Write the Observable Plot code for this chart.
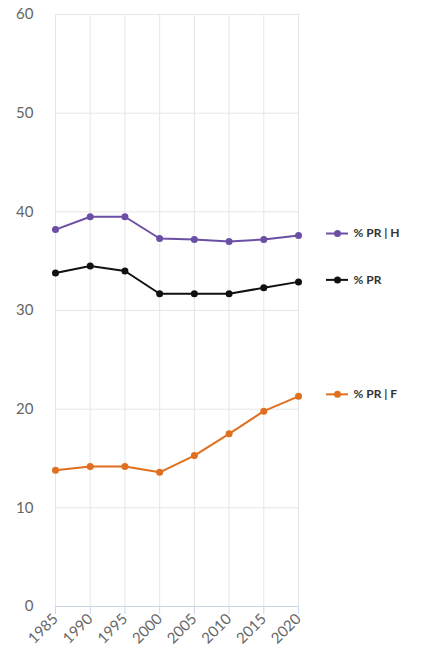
<!DOCTYPE html>
<html>
<head>
<meta charset="utf-8">
<script src="https://cdn.jsdelivr.net/npm/d3@7"></script>
<script src="https://cdn.jsdelivr.net/npm/@observablehq/plot@0.6"></script>
<style>
  html, body { margin: 0; padding: 0; background: #fff; }
  #chart svg { display: block; }
</style>
</head>
<body>
<div id="chart"></div>
<script>
const years = [1985, 1990, 1995, 2000, 2005, 2010, 2015, 2020];
const seriesNames = ["% PR | H", "% PR", "% PR | F"];
const seriesColors = ["#6b4fa5", "#111111", "#e06f1f"];
const valuesH = [38.2, 39.5, 39.5, 37.3, 37.2, 37.0, 37.2, 37.6];
const valuesPR = [33.8, 34.5, 34.0, 31.7, 31.7, 31.7, 32.3, 32.9];
const valuesF = [13.8, 14.2, 14.2, 13.6, 15.3, 17.5, 19.8, 21.3];
const yTicks = [0, 10, 20, 30, 40, 50, 60];

const seriesValues = [valuesH, valuesPR, valuesF];
const data = [];
seriesNames.forEach((s, i) => years.forEach((yr, j) => data.push({series: s, year: yr, value: seriesValues[i][j]})));
const last = seriesNames.map((s, i) => ({series: s, year: years[years.length - 1], value: seriesValues[i][years.length - 1]}));

const plot = Plot.plot({
  width: 425,
  height: 652,
  marginLeft: 55,
  marginRight: 127,
  marginTop: 14,
  marginBottom: 46,
  style: {fontFamily: "Lato, 'DejaVu Sans', sans-serif", fontSize: "15px", color: "#666", background: "#fff"},
  x: {domain: [1985, 2020], label: null},
  y: {domain: [0, 60], label: null},
  color: {domain: seriesNames, range: seriesColors},
  marks: [
    Plot.ruleX(years, {x: d => d, stroke: "#e6e6e6", strokeWidth: 1}),
    Plot.ruleY(yTicks.filter(d => d > 0), {y: d => d, stroke: "#e6e6e6", strokeWidth: 1}),
    Plot.ruleY([0], {stroke: "#ccd6eb", strokeWidth: 1}),
    Plot.axisX({ticks: years, tickFormat: d => String(d), tickRotate: -45, tickSize: 8, tickPadding: 2, stroke: "#ccd6eb", fill: "#666", label: null, fontSize: 15}),
    Plot.axisY({ticks: yTicks, tickSize: 0, tickPadding: 22, fill: "#666", label: null, fontSize: 15}),
    Plot.line(data, {x: "year", y: "value", z: "series", stroke: "series", strokeWidth: 2}),
    Plot.dot(data, {x: "year", y: "value", fill: "series", r: 3.5, stroke: "none"}),
    Plot.ruleY(last, {x1: "year", x2: "year", y: "value", dy: -2, insetLeft: 28, insetRight: -50, stroke: "series", strokeWidth: 2, clip: false}),
    Plot.dot(last, {x: "year", y: "value", dx: 39, dy: -2, fill: "series", r: 3.5, stroke: "none"}),
    Plot.text(last, {x: "year", y: "value", text: "series", dx: 55, dy: -2, textAnchor: "start", fontWeight: "bold", fill: "#333", fontSize: 12})
  ]
});
document.getElementById("chart").appendChild(plot);
</script>
</body>
</html>
